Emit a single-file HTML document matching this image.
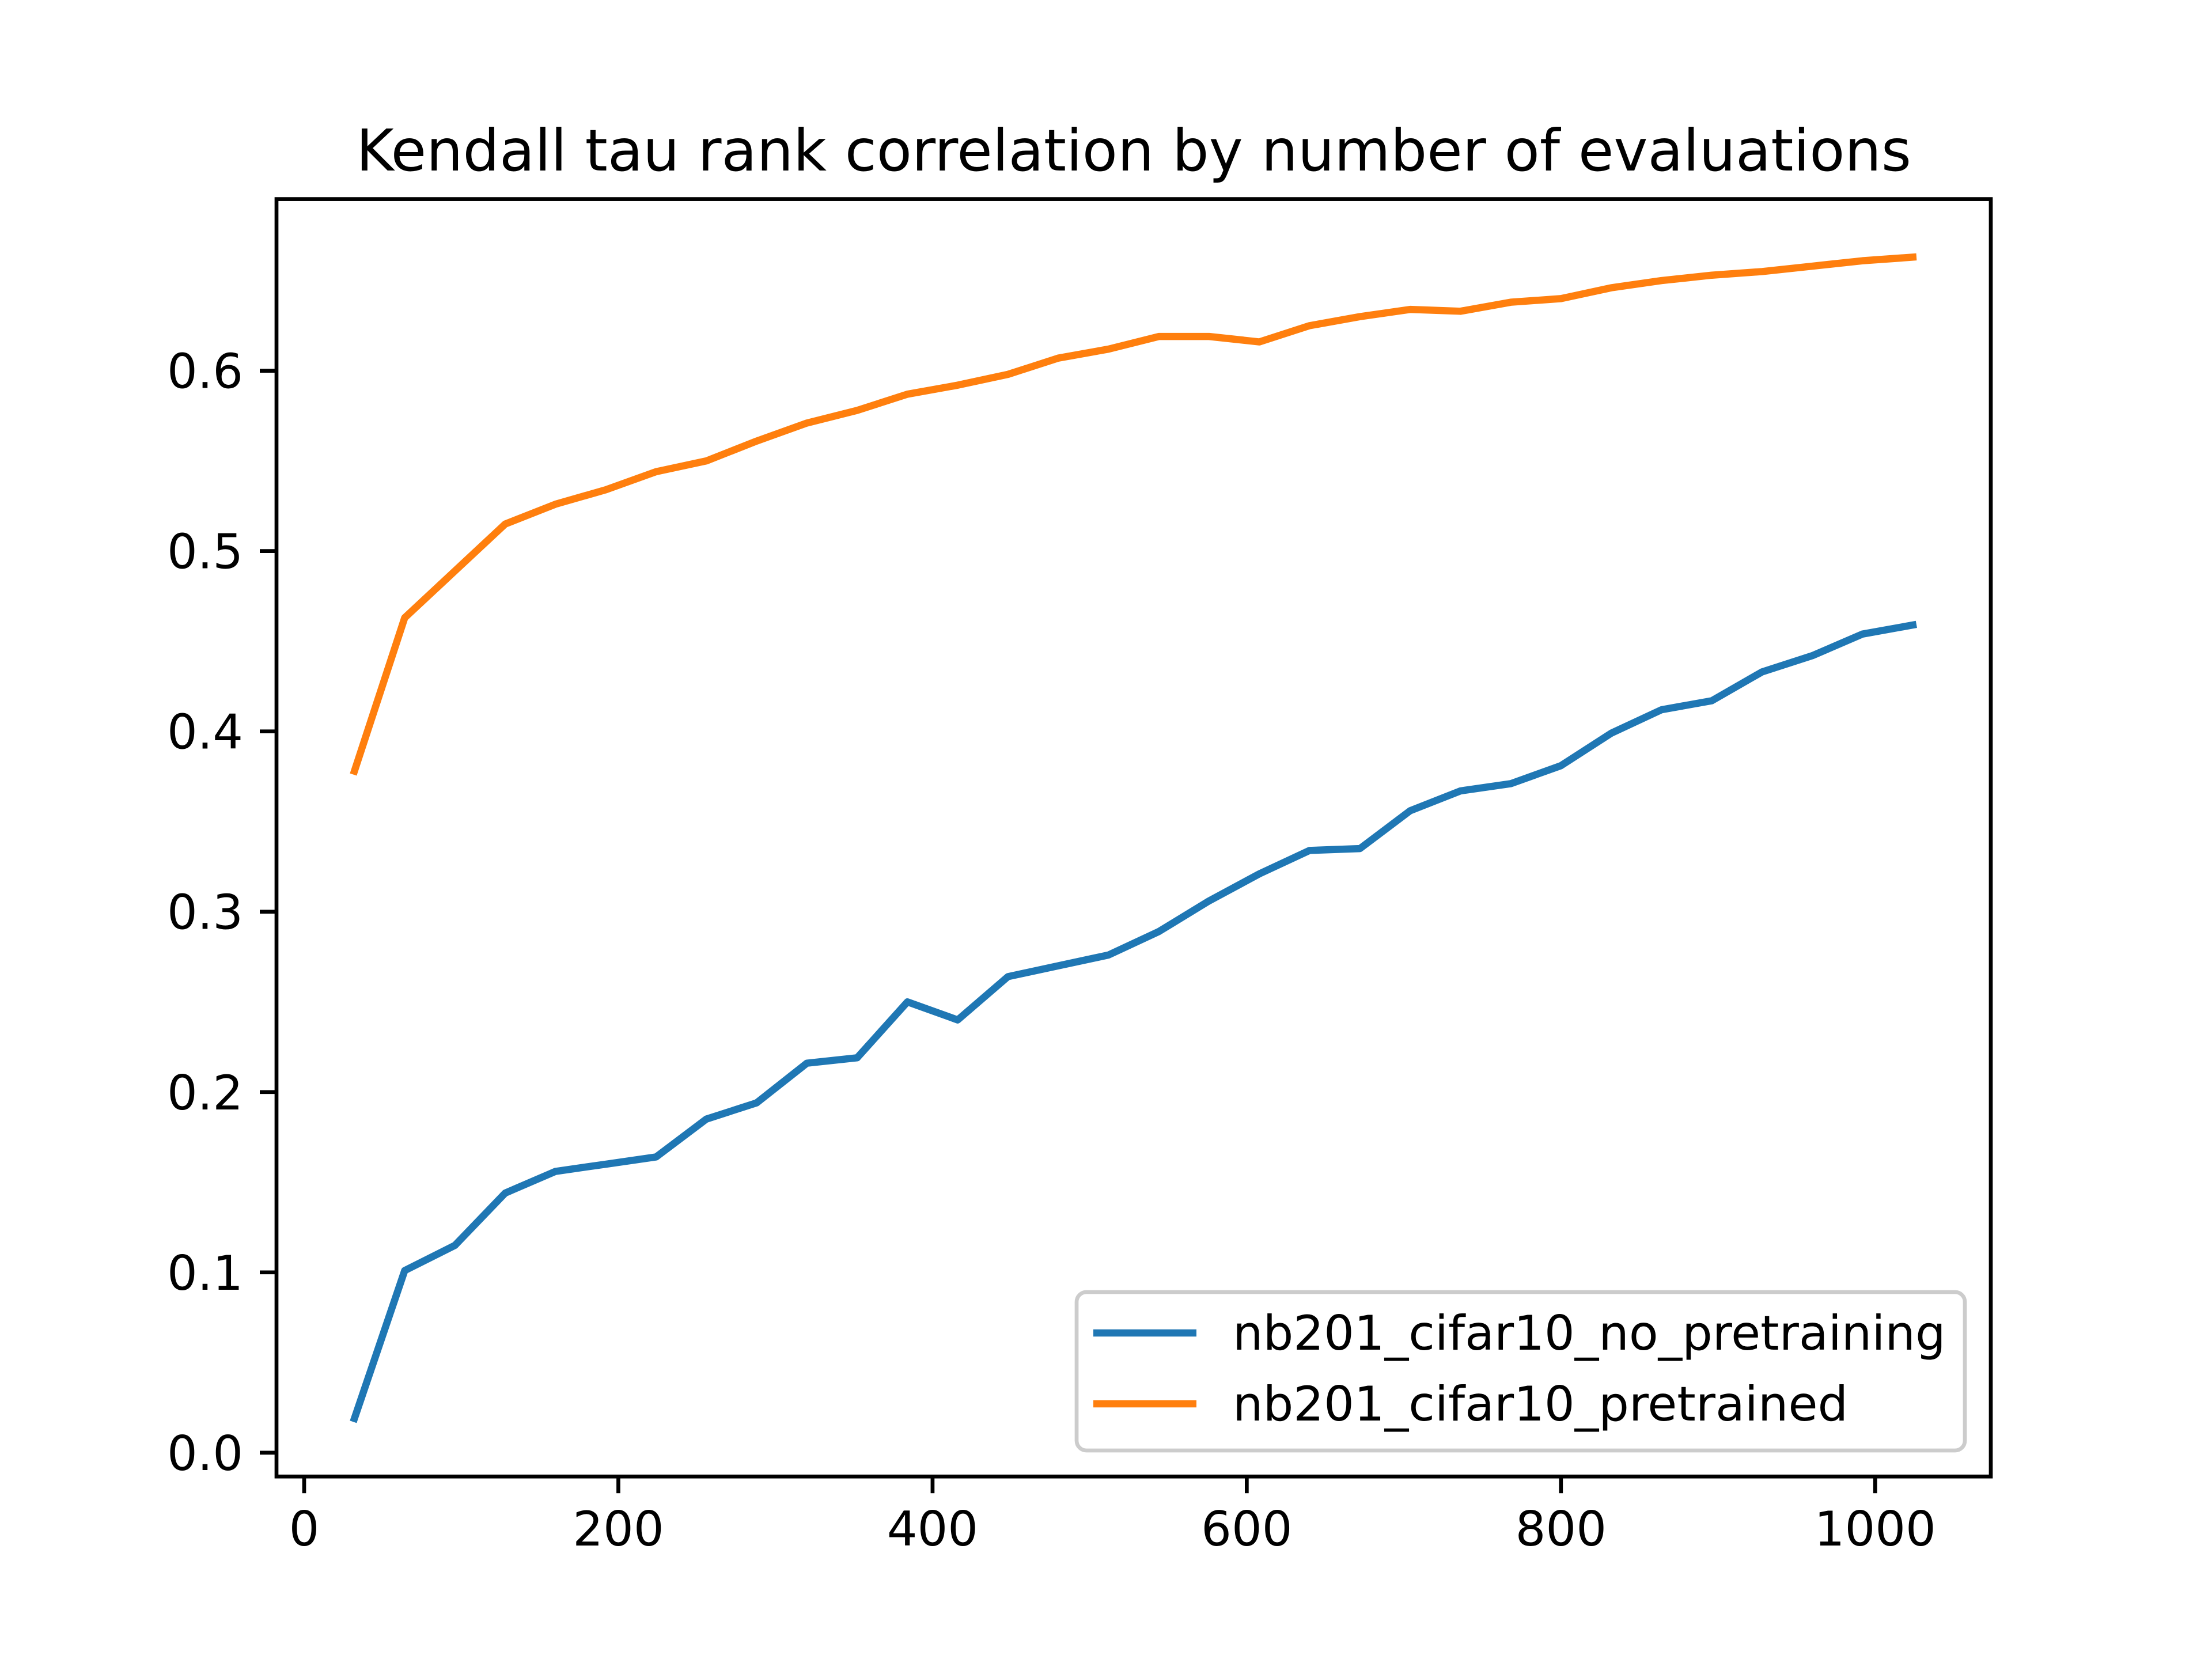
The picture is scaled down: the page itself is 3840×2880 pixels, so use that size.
<!DOCTYPE html>
<html><head><meta charset="utf-8"><style>
html,body{margin:0;padding:0;background:#fff;}
svg{display:block;font-family:"DejaVu Sans","Liberation Sans",sans-serif;}
</style></head><body>
<svg id="chart" width="3840" height="2880" viewBox="0 0 3840 2880">
<rect width="3840" height="2880" fill="#fff"/>
<text x="1968" y="296" font-size="100" text-anchor="middle">Kendall tau rank correlation by number of evaluations</text>
<g id="plot"></g>
</svg>
<script>
const evals = [32,64,96,128,160,192,224,256,288,320,352,384,416,448,480,512,544,576,608,640,672,704,736,768,800,832,864,896,928,960,992,1024];
const noPretraining = [0.019,0.101,0.115,0.144,0.156,0.160,0.164,0.185,0.194,0.216,0.219,0.250,0.240,0.264,0.270,0.276,0.289,0.306,0.321,0.334,0.335,0.356,0.367,0.371,0.381,0.399,0.412,0.417,0.433,0.442,0.454,0.459];
const pretrained = [0.378,0.463,0.489,0.515,0.526,0.534,0.544,0.550,0.561,0.571,0.578,0.587,0.592,0.598,0.607,0.612,0.619,0.619,0.616,0.625,0.630,0.634,0.633,0.638,0.640,0.646,0.650,0.653,0.655,0.658,0.661,0.663];
const xTicks = [0,200,400,600,800,1000];
const yTicks = [0.0,0.1,0.2,0.3,0.4,0.5,0.6];
const seriesNames = ["nb201_cifar10_no_pretraining","nb201_cifar10_pretrained"];

const NS="http://www.w3.org/2000/svg";
const L=480,R=3456,T=345.6,B=2563.2;
const allX=evals, allY=noPretraining.concat(pretrained);
const xmin0=Math.min(...allX),xmax0=Math.max(...allX);
const ymin0=Math.min(...allY),ymax0=Math.max(...allY);
const xm=(xmax0-xmin0)*0.05, ym=(ymax0-ymin0)*0.05;
const xMin=xmin0-xm,xMax=xmax0+xm,yMin=ymin0-ym,yMax=ymax0+ym;
const sx=v=>L+(v-xMin)/(xMax-xMin)*(R-L);
const sy=v=>B-(v-yMin)/(yMax-yMin)*(B-T);
const g=document.getElementById('plot');
function mk(tag,attrs,parent){const e=document.createElementNS(NS,tag);for(const k in attrs)e.setAttribute(k,attrs[k]);(parent||g).appendChild(e);return e;}

const colors=["#1f77b4","#ff7f0e"];
[noPretraining,pretrained].forEach((ys,i)=>{
  const p=mk('polyline',{points:evals.map((x,j)=>sx(x)+','+sy(ys[j])).join(' '),fill:'none',stroke:colors[i],'stroke-width':12.5,'stroke-linejoin':'round','stroke-linecap':'square'});
  
  
});

const frame=mk('rect',{x:L,y:T,width:R-L,height:B-T,fill:'none',stroke:'#000','stroke-width':6.7});



xTicks.forEach(v=>{
  const x=sx(v);
  const t=mk('line',{x1:x,y1:B,x2:x,y2:B+29,stroke:'#000','stroke-width':6.7});
  
  
  const tx=mk('text',{x:x,y:B+58+62,'font-size':83,'text-anchor':'middle'});
  tx.textContent=String(v);
  
  
});
yTicks.forEach(v=>{
  const y=sy(v);
  const t=mk('line',{x1:L-29,y1:y,x2:L,y2:y,stroke:'#000','stroke-width':6.7});
  
  
  const tx=mk('text',{x:L-58,y:y+30,'font-size':83,'text-anchor':'end'});
  tx.textContent=v.toFixed(1);
  
  
});

const lg=mk('g',{});


const box=mk('rect',{x:1869,y:2243,width:1542,height:275,rx:17,fill:'#fff','fill-opacity':0.8,stroke:'#ccc','stroke-width':6.7},lg);


seriesNames.forEach((n,i)=>{
  const y=2314+i*123;
  const ln=mk('line',{x1:1898,y1:y,x2:2077,y2:y,stroke:colors[i],'stroke-width':12.5},lg);
  
  
  const tx=mk('text',{x:2140,y:y+29,'font-size':83},lg);
  tx.textContent=n;
  
  
});
</script>
</body></html>
